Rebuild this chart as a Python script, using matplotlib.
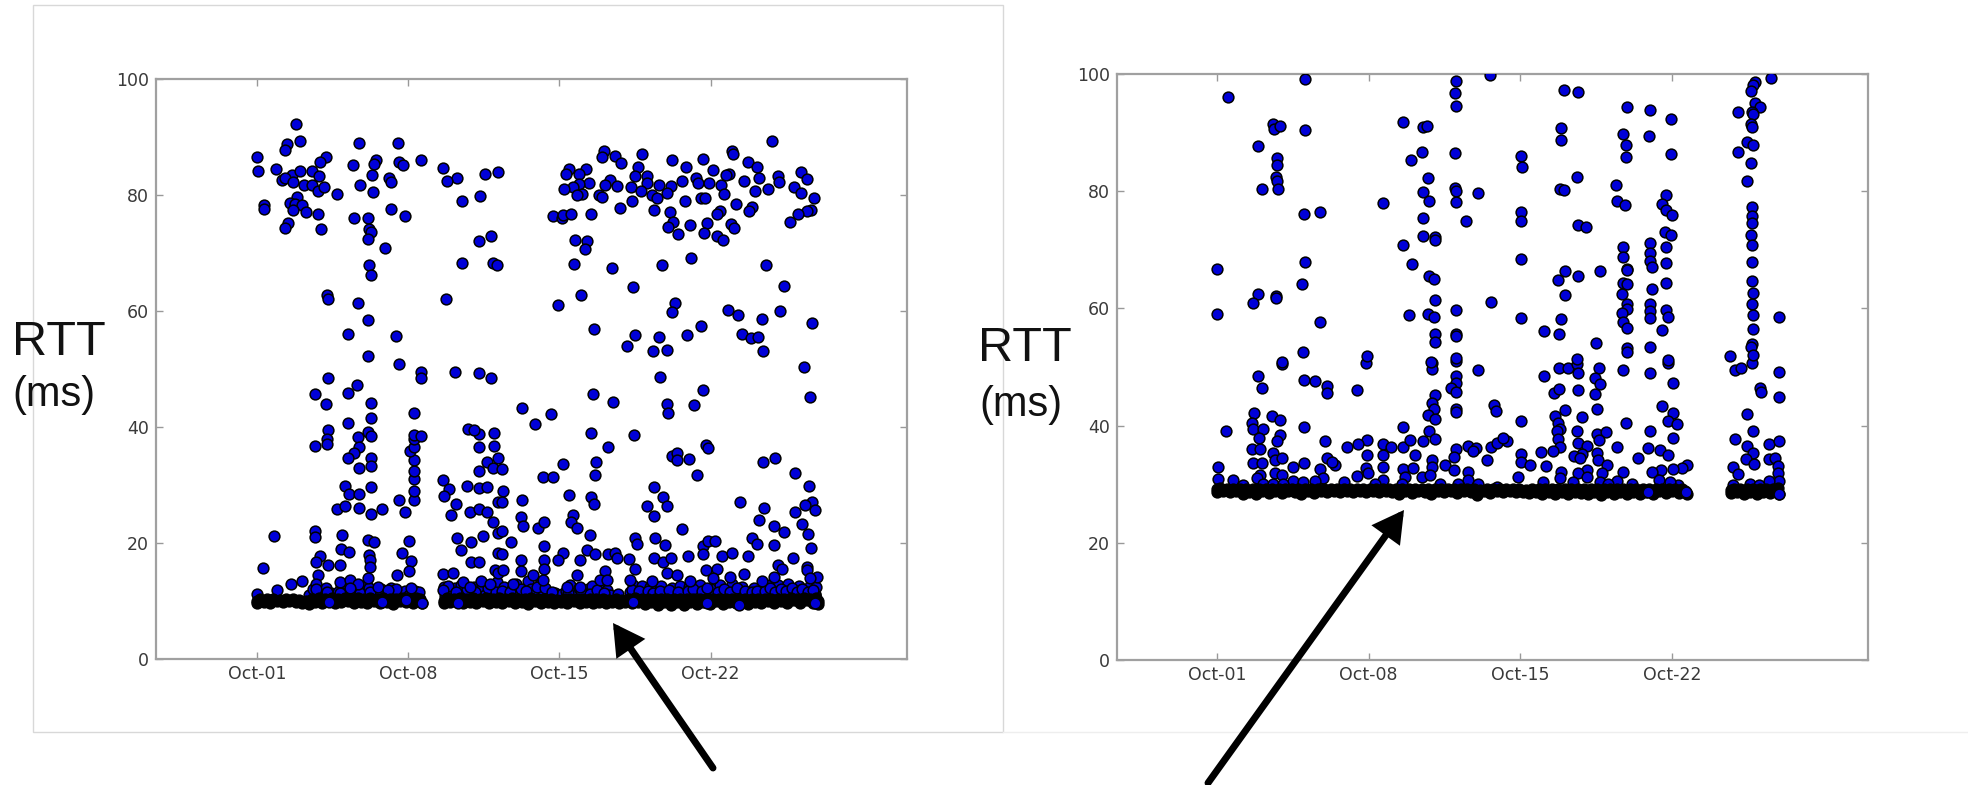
import numpy as np
import matplotlib
matplotlib.use("Agg")
import matplotlib.pyplot as plt
from matplotlib.patches import FancyArrowPatch, Rectangle
from matplotlib.lines import Line2D

# --- data: (days since Oct-01, RTT in ms) ---
tick_days = [0, 7, 14, 21]
tick_labels = ["Oct-01", "Oct-08", "Oct-15", "Oct-22"]
rtt_ticks = [0, 20, 40, 60, 80, 100]

left_high_early = [
    (1.81,92.2),(1.98,89.3),(1.37,88.8),(1.28,87.7),(0.0,86.6),(0.03,84.2),(0.88,84.5),(3.19,86.5),(2.93,85.7),
    (4.72,89.0),(6.51,89.0),(4.46,85.1),(5.51,86.1),(5.40,85.3),(6.56,85.7),(6.77,85.2),(7.61,86.0),(8.60,84.7),
    (9.24,83.0),(8.81,82.5),(10.56,83.6),(11.17,83.9),(1.17,82.6),(1.6,83.4),(2.0,84.1),(2.52,84.1),(2.87,83.2),
    (1.3,83.0),(1.64,82.2),(2.18,81.7),(2.52,81.7),(2.84,80.7),(3.09,81.3),(3.69,80.2),(5.31,83.5),(4.75,81.8),
    (5.35,80.6),(6.1,82.9),(6.22,82.3),(10.31,79.9),(9.5,79.0),(1.84,79.7),(1.51,78.6),(1.77,78.4),(2.07,78.2),
    (0.32,78.3),(0.32,77.6),(1.68,77.4),(2.25,77.1),(2.81,76.8),(1.44,75.1),(1.27,74.3),(2.96,74.2),(4.51,76.1),
    (5.15,76.1),(6.19,77.6),(6.85,76.3),(5.19,74.1),(5.29,73.7),(5.14,72.5),(5.94,70.9),(10.82,73.0),(10.29,72.1),
    (9.49,68.3),(10.94,68.2),(11.11,68.0),(5.17,67.9),(5.26,66.2),(3.23,62.8),(3.27,62.0),(4.69,61.4),(8.73,62.1),
    (5.14,58.4),(4.23,56.1),(6.44,55.7),(5.15,52.2),(6.59,50.8),
]
left_high_late = [
    (23.86,89.3),(16.04,87.6),(15.96,86.5),(16.56,86.8),(16.84,85.6),(17.82,87.1),(19.2,86.1),(20.66,86.2),
    (19.86,84.8),(21.98,87.6),(22.02,87.0),(22.75,85.7),(23.16,84.9),(21.13,84.3),(17.65,84.8),(14.46,84.5),
    (14.32,83.7),(15.22,84.5),(14.91,83.7),(25.2,84.0),(25.48,82.7),(24.12,83.3),(24.15,82.2),(23.26,83.0),
    (22.56,82.5),(21.84,83.7),(21.71,83.4),(17.5,83.3),(18.04,83.2),(18.07,82.1),(16.34,82.6),(16.13,81.7),
    (16.65,81.6),(17.33,81.4),(17.76,80.7),(15.37,82.1),(14.92,81.9),(14.64,81.4),(14.21,81.0),(15.03,80.2),
    (14.83,80.0),(15.83,80.0),(15.96,79.7),(18.63,81.7),(19.15,81.6),(19.0,80.3),(18.3,80.0),(18.53,79.5),
    (19.66,82.5),(20.33,83.0),(20.42,82.0),(20.92,82.0),(21.48,81.8),(21.63,80.2),(23.04,80.7),(23.67,81.1),
    (24.85,81.4),(25.17,80.3),(25.8,79.4),(17.36,79.0),(16.78,77.8),(19.79,79.0),(20.57,79.4),(20.72,79.4),
    (22.16,78.4),(22.93,78.0),(22.79,77.2),(21.44,77.2),(21.31,76.8),(18.36,77.4),(19.14,77.1),(25.65,77.5),
    (25.45,77.2),(25.06,76.7),(24.66,75.4),(13.72,76.4),(14.14,76.0),(14.18,76.5),(14.54,76.8),(15.45,76.7),
    (19.27,75.3),(19.04,74.5),(20.05,74.8),(20.85,75.1),(21.93,75.0),(22.1,74.3),(19.5,73.2),(20.71,73.4),
    (21.28,73.0),(21.59,72.2),(14.74,72.3),(15.29,72.0),(15.17,70.7),(20.11,69.1),(14.65,68.1),(16.42,67.5),
    (18.74,67.9),(23.58,68.0),(17.41,64.2),(24.41,64.3),(15.0,62.7),(13.91,61.0),(19.34,61.3),(19.23,59.9),
    (21.79,60.1),(22.28,59.3),(23.37,58.7),(24.22,60.0),(25.69,57.9),(15.62,56.9),(17.49,55.8),(18.6,55.6),
    (17.12,54.0),(18.34,53.1),(18.97,53.3),(19.92,55.8),(20.54,57.5),(22.45,56.0),(22.89,55.3),(23.21,55.5),
    (23.41,53.1),(25.3,50.4),
]
left_mid_early = [
    (7.59,49.4),(7.59,48.4),(9.15,49.4),(10.28,49.3),(10.85,48.4),(3.27,48.4),(4.61,47.2),(4.23,45.8),(2.67,45.7),
    (3.21,44.0),(5.28,44.1),(5.26,41.6),(7.27,42.5),(4.23,40.7),(3.27,39.4),(3.23,38.0),(3.23,37.1),(2.67,36.7),
    (5.15,39.1),(4.69,38.3),(5.26,38.4),(4.72,36.6),(4.49,35.5),(4.23,34.7),(5.26,34.7),(5.26,33.2),(4.72,33.0),
    (4.07,29.9),(4.24,28.4),(4.72,28.5),(5.29,29.6),(3.72,25.8),(4.06,26.4),(4.74,26.0),(5.26,25.0),(5.79,25.9),
    (6.59,27.4),(6.85,25.4),(7.27,27.4),(7.27,28.9),(7.27,31.0),(7.27,32.4),(7.27,34.3),(7.08,35.9),(7.27,36.6),
    (7.27,37.9),(7.27,38.6),(7.58,38.5),(8.63,30.9),(8.9,29.3),(8.66,28.1),(9.21,26.8),(8.98,24.9),(9.74,29.8),
    (10.29,29.4),(10.66,29.7),(10.29,32.4),(10.63,34.0),(10.94,33.0),(11.17,34.6),(10.28,36.6),(10.97,36.8),
    (10.28,38.8),(9.78,39.6),(10.02,39.5),(10.97,39.0),(9.86,25.3),(10.29,25.8),(10.66,25.3),(10.91,23.6),
    (11.17,21.8),(9.24,20.8),(9.89,20.1),(10.45,21.2),(9.44,18.8),(9.89,16.7),(10.28,16.8),(11.17,18.2),(11.17,27.1),
    (0.79,21.2),(0.29,15.7),(2.67,22.1),(2.67,21.1),(3.94,21.3),(5.15,20.5),(5.42,20.1),(7.02,20.4),(3.87,18.9),
    (4.24,18.4),(6.7,18.2),(2.92,17.8),(2.72,16.8),(3.27,16.2),(3.84,16.2),(5.2,17.9),(5.23,17.1),(5.23,15.9),
    (7.11,16.9),(7.02,15.1),(6.47,14.5),(2.81,14.5),(1.59,13.0),(2.07,13.5),(0.91,11.9),(0.0,11.2),(5.15,13.9),
    (2.72,13.0),(2.72,12.1),(3.23,11.6),(3.84,13.2),(4.31,13.6),(4.69,13.0),(4.31,12.2),(3.84,11.3),(5.23,11.6),
    (5.62,12.5),(6.08,11.9),(7.11,12.2),(8.63,14.7),(9.06,14.8),(8.63,11.9),(9.55,13.3),(9.86,12.5),(10.35,13.5),
    (10.79,13.0),(11.02,15.3),(11.17,14.8),
]
left_mid_late = [
    (18.66,48.7),(25.59,45.2),(20.63,46.4),(20.25,43.8),(18.97,43.9),(19.01,42.4),(15.57,45.7),(16.5,44.3),
    (12.25,43.3),(12.87,40.5),(13.61,42.3),(15.48,38.9),(16.26,36.6),(17.45,38.7),(14.18,33.7),(15.69,33.9),
    (15.66,31.7),(13.26,31.3),(13.72,31.3),(12.25,27.4),(14.43,28.3),(15.45,28.0),(15.6,26.7),(19.2,35.0),
    (19.43,35.6),(19.43,34.3),(20.0,34.5),(20.35,31.7),(20.79,36.9),(20.89,36.3),(23.44,34.0),(24.0,34.7),
    (24.89,32.0),(25.54,29.8),(25.68,27.0),(25.37,26.6),(25.83,25.7),(24.91,25.3),(25.22,23.2),(25.51,21.6),
    (25.63,19.1),(18.38,29.6),(18.81,27.9),(18.98,26.4),(18.04,26.4),(18.38,24.7),(22.36,27.1),(23.46,26.0),
    (23.26,23.9),(23.91,23.0),(24.41,21.9),(19.66,22.5),(22.92,20.9),(23.16,19.8),(23.91,19.7),(12.24,24.4),
    (12.33,23.0),(12.99,22.6),(13.29,23.6),(14.61,24.8),(14.52,23.6),(14.8,22.6),(15.42,21.4),(11.74,20.1),
    (11.33,22.0),(11.4,28.9),(11.33,27.1),(11.33,32.8),(13.29,19.5),(11.33,18.1),(15.29,18.8),(15.65,18.1),
    (14.18,18.3),(13.95,17.0),(14.95,17.1),(16.26,18.1),(16.57,18.3),(16.68,17.5),(17.24,17.2),(17.5,20.8),
    (17.61,19.9),(18.41,20.9),(18.87,19.7),(19.97,17.8),(20.66,19.4),(20.89,20.4),(21.2,20.4),(20.66,18.1),
    (21.52,17.8),(21.98,18.3),(22.75,17.8),(24.83,17.4),(18.38,17.4),(18.81,16.8),(19.16,17.5),(12.21,17.1),
    (13.29,17.1),(13.29,15.5),(12.21,15.1),(11.37,15.3),(17.5,15.6),(16.13,15.2),(14.83,14.5),(18.98,14.8),
    (19.43,14.5),(20.79,15.3),(21.31,15.5),(22.55,14.7),(24.14,16.2),(24.3,15.5),(25.48,15.9),(25.48,15.3),
    (12.79,14.5),(25.91,14.1),(25.6,13.9),(23.36,13.5),(23.91,14.2),(21.9,14.1),(21.13,13.9),(20.05,13.5),
    (18.27,13.5),(17.27,13.7),(13.26,13.6),(11.87,13.0),(15.88,13.7),(14.34,12.5),(14.95,12.5),(16.19,13.6),
]
left_low = [
    (2.4,11.0),(2.75,11.5),(3.05,10.9),(3.4,11.3),(3.6,10.7),(3.9,12.4),(4.05,11.0),(4.15,12.8),(4.4,11.3),(4.5,12.6),
    (4.6,10.8),(4.85,12.1),(4.95,11.0),(5.1,12.7),(5.35,11.2),(5.5,10.8),(5.75,12.1),(5.9,11.1),(6.2,12.2),(6.3,10.9),
    (6.55,11.3),(6.85,11.8),(7.05,11.0),(7.3,11.7),(7.45,10.9),(8.65,12.4),(8.7,10.9),(8.95,11.5),(9.15,12.2),(9.3,11.0),
    (9.45,12.8),(9.6,11.2),(9.85,11.4),(10.05,12.4),(10.2,11.0),(10.4,12.6),(10.55,11.1),(10.85,11.6),(11.1,13.2),
    (11.2,11.2),(11.45,12.4),(11.6,10.9),(11.8,12.1),(12.0,13.0),(12.1,11.3),(12.35,11.0),(12.55,13.4),(12.7,12.0),
    (12.85,11.2),(13.1,13.0),(13.25,11.7),(13.5,11.0),(13.8,11.4),(14.1,11.2),(14.3,11.8),(14.5,12.8),(14.7,11.3),
    (14.9,12.3),(15.1,11.3),(15.3,12.0),(15.5,12.6),(15.7,11.3),(15.95,12.6),(16.2,11.9),(16.35,11.0),(16.7,11.2),
    (17.25,11.5),(17.4,12.8),(17.6,11.3),(17.8,12.6),(18.0,11.2),(18.2,12.4),(18.5,11.2),(18.7,12.6),(18.95,11.6),
    (19.2,12.3),(19.35,11.1),(19.6,12.6),(19.85,11.2),(20.0,12.5),(20.3,11.4),(20.5,12.8),(20.7,11.2),(21.0,12.1),
    (21.2,11.0),(21.45,12.8),(21.7,11.3),(22.0,12.9),(22.25,11.5),(22.45,12.4),(22.75,11.3),(23.0,12.2),(23.3,11.0),
    (23.6,12.8),(23.85,11.8),(24.1,12.7),(24.35,11.2),(24.6,12.9),(24.85,11.7),(25.1,12.6),(25.35,11.3),(25.6,12.6),
    (25.85,11.2),(25.9,12.4),(25.83,11.0),
    # second pass over the same strip, it is crowded there
    (2.6,12.0),(3.2,12.3),(3.75,11.6),(4.25,11.7),(4.75,11.4),(5.2,12.2),(5.65,11.3),(6.05,11.6),(6.45,12.0),(7.15,11.3),
    (7.5,11.6),(8.85,12.6),(9.2,11.6),(9.7,12.1),(10.1,11.6),(10.7,12.2),(11.05,11.5),(11.35,11.7),(11.7,11.6),(12.2,12.1),
    (12.45,11.7),(12.95,12.4),(13.35,12.2),(13.65,11.5),(14.4,11.4),(15.0,11.7),(15.4,11.2),(15.75,11.9),(16.05,11.3),
    (17.35,11.9),(17.7,11.8),(18.1,11.7),(18.35,11.4),(18.65,11.8),(19.05,11.9),(19.5,11.6),(19.95,11.7),(20.2,12.1),
    (20.6,11.7),(20.85,12.3),(21.35,11.6),(21.6,12.0),(21.9,11.6),(22.2,12.2),(22.6,11.8),(22.9,11.5),(23.15,11.7),
    (23.5,11.7),(23.75,12.2),(24.0,11.5),(24.25,12.1),(24.5,11.8),(24.75,12.2),(25.0,11.5),(25.25,12.0),(25.5,11.5),(25.75,11.9),
]
left_band_blue = [(17.42,9.9),(20.82,9.6),(22.3,9.3),(25.83,9.6),(3.33,9.8),(6.9,10.1),(7.65,9.7),(5.77,9.8),(9.32,9.6)]
left_floor = [
    (0.0,10.0),(0.0,9.6),(0.3,9.9),(0.6,9.7),(0.9,10.0),(1.2,9.8),(1.5,10.0),(1.8,9.9),(2.1,9.6),(2.4,9.4),(2.7,9.8),
    (3.0,9.6),(3.3,10.0),(3.6,9.7),(3.9,9.8),(4.2,10.0),(4.5,9.6),(4.8,9.9),(5.1,9.7),(5.4,10.0),(5.7,9.6),(6.0,9.9),
    (6.3,9.5),(6.6,10.0),(6.9,9.8),(7.2,9.6),(7.5,10.0),(7.65,9.7),(8.65,10.0),(8.65,9.6),(8.95,9.8),(9.25,10.0),
    (9.55,9.6),(9.85,9.9),(10.15,9.7),(10.45,10.0),(10.75,9.6),(11.05,9.9),(11.35,9.6),(11.65,10.0),(11.95,9.7),
    (12.25,9.9),(12.55,9.4),(12.85,10.0),(13.15,9.7),(13.45,9.9),(13.75,9.6),(14.05,9.9),(14.35,9.7),(14.65,10.0),
    (14.95,9.6),(15.25,9.9),(15.55,9.7),(15.85,9.9),(16.15,9.6),(16.45,9.9),(16.75,9.7),(17.05,9.8),(17.35,9.6),
    (17.65,9.9),(17.95,9.5),(18.25,9.8),(18.55,9.3),(18.85,9.8),(19.15,9.3),(19.45,9.9),(19.75,9.3),(20.05,9.9),
    (20.35,9.5),(20.65,9.9),(20.95,9.4),(21.25,10.0),(21.55,9.4),(21.85,9.9),(22.15,9.6),(22.45,10.0),(22.75,9.5),
    (23.05,9.9),(23.35,9.6),(23.65,10.0),(23.95,9.6),(24.25,10.0),(24.55,9.7),(24.85,10.1),(25.15,9.6),(25.45,10.1),
    (25.75,9.6),(25.95,10.0),(25.95,9.4),
    # top of the band
    (0.15,10.4),(0.45,10.3),(0.75,10.3),(1.05,10.2),(1.35,10.3),(1.65,10.3),(1.95,10.1),(2.25,10.0),(2.55,10.3),(2.85,10.5),
    (3.15,10.4),(3.45,10.5),(3.75,10.4),(4.05,10.5),(4.35,10.4),(4.65,10.5),(4.95,10.4),(5.25,10.5),(5.55,10.4),(5.85,10.5),
    (6.15,10.4),(6.45,10.3),(6.75,10.5),(7.05,10.4),(7.35,10.5),(7.55,10.3),(8.8,10.5),(9.1,10.4),(9.4,10.5),(9.7,10.4),
    (10.0,10.5),(10.3,10.4),(10.6,10.5),(10.9,10.4),(11.2,10.5),(11.5,10.4),(11.8,10.5),(12.1,10.4),(12.4,10.3),(12.7,10.5),
    (13.0,10.4),(13.3,10.3),(13.6,10.4),(13.9,10.2),(14.2,10.4),(14.5,10.3),(14.8,10.4),(15.1,10.3),(15.4,10.4),(15.7,10.3),
    (16.0,10.3),(16.3,10.2),(16.6,10.3),(16.9,10.2),(17.2,10.4),(17.5,10.5),(17.8,10.4),(18.1,10.3),(18.4,10.4),(18.7,10.3),
    (19.0,10.4),(19.3,10.3),(19.6,10.4),(19.9,10.3),(20.2,10.4),(20.5,10.3),(20.8,10.4),(21.1,10.3),(21.4,10.4),(21.7,10.3),
    (22.0,10.4),(22.3,10.3),(22.6,10.4),(22.9,10.3),(23.2,10.4),(23.5,10.3),(23.8,10.4),(24.1,10.3),(24.4,10.4),(24.7,10.5),
    (25.0,10.4),(25.3,10.5),(25.6,10.4),(25.9,10.5),
]

right_high_early = [
    (0.52,96.1),(4.06,99.1),(2.57,91.5),(2.63,90.6),(2.92,91.1),(4.08,90.5),(8.57,91.8),(9.49,91.0),(9.71,91.1),
    (11.02,98.8),(10.97,96.7),(11.05,94.6),(12.62,99.9),(1.88,87.7),(9.45,86.7),(8.95,85.3),(10.98,86.5),(2.78,85.6),
    (2.78,84.4),(2.71,82.4),(2.78,81.8),(2.09,80.3),(2.8,80.4),(9.75,82.2),(11.0,80.6),(11.05,80.0),(9.49,79.8),
    (12.06,79.7),(9.8,78.3),(11.02,78.1),(7.68,78.0),(4.0,76.1),(4.75,76.5),(9.49,75.5),(11.48,74.9),(9.49,72.4),
    (10.05,72.2),(10.06,71.7),(8.57,70.9),(4.06,67.9),(9.0,67.6),(0.02,66.7),(9.78,65.6),(10.03,65.1),(3.94,64.2),
    (1.88,62.4),(1.66,61.0),(2.71,62.1),(2.72,61.7),(10.06,61.5),(12.65,61.1),(0.02,59.0),(8.86,58.8),(9.75,59.0),
    (10.02,58.5),(11.03,59.8),(4.75,57.6),(10.06,55.7),(11.02,55.7),(11.02,55.3),(10.06,54.3),(3.95,52.6),(6.91,51.8),
    (11.02,51.6),(9.86,50.9),(3.0,50.9),
]
right_high_late = [
    (25.58,99.4),(24.83,98.7),(24.75,98.1),(24.66,97.1),(16.02,97.2),(16.65,97.0),(18.94,94.3),(20.0,93.8),(20.97,92.4),
    (24.02,93.5),(24.81,95.1),(25.06,94.3),(24.68,93.6),(24.75,93.2),(24.65,91.4),(24.68,90.9),(15.88,90.7),(15.86,88.8),
    (18.74,89.8),(18.88,87.8),(18.88,85.9),(19.95,89.5),(20.97,86.4),(24.45,88.4),(24.72,87.9),(24.05,86.7),(24.66,84.8),
    (24.46,81.7),(14.02,86.0),(14.06,84.1),(16.63,82.5),(15.83,80.3),(16.02,80.2),(18.43,81.1),(18.45,78.3),(18.85,77.6),
    (20.72,79.3),(20.54,77.8),(20.72,76.8),(20.98,75.9),(24.68,77.3),(24.71,75.8),(24.71,74.5),(14.02,76.4),(14.02,74.9),
    (16.66,74.2),(17.02,73.9),(20.68,73.0),(20.97,72.5),(24.66,72.6),(24.71,70.8),(18.74,70.5),(20.0,71.1),(20.72,70.4),
    (19.98,69.5),(18.74,68.8),(19.98,68.1),(14.02,68.4),(20.71,67.8),(24.71,68.0),(18.94,66.8),(20.06,67.0),(18.91,66.5),
    (16.06,66.3),(15.75,64.8),(16.66,65.6),(17.66,66.4),(18.72,64.3),(18.94,64.2),(20.71,64.4),(24.68,64.6),(16.06,62.3),
    (20.06,63.3),(18.69,62.5),(24.75,62.7),(18.94,60.7),(19.98,60.7),(24.68,60.7),(18.91,59.9),(20.0,59.6),(20.72,59.8),
    (18.69,59.2),(19.98,58.3),(14.02,58.3),(15.86,58.2),(24.75,58.9),(25.95,58.6),(20.82,58.5),(18.72,57.7),(18.91,56.7),
    (15.09,56.1),(15.77,55.6),(20.52,56.3),(24.72,56.4),(17.48,54.1),(19.98,53.4),(18.94,53.3),(18.91,52.5),(24.68,54.0),
    (24.63,53.4),(24.75,52.0),(23.68,51.9),(16.63,51.3),(20.8,51.2),
]
right_mid_early = [
    (3.02,50.5),(6.89,50.7),(9.91,50.6),(9.91,49.7),(11.03,51.1),(12.06,49.5),(1.88,48.4),(2.09,46.4),(4.03,47.8),
    (4.52,47.6),(5.06,46.8),(5.06,45.6),(6.45,46.1),(11.03,48.4),(11.02,47.2),(10.78,46.4),(11.03,45.8),(10.06,45.3),
    (9.91,43.8),(10.03,42.9),(11.02,42.9),(11.02,42.3),(9.75,41.8),(10.06,41.1),(12.8,43.5),(12.88,42.5),(1.72,42.1),
    (2.52,41.7),(2.91,41.0),(1.63,40.4),(1.68,39.4),(2.14,39.5),(4.03,39.8),(0.42,39.0),(1.95,37.8),(2.91,38.4),
    (2.75,37.3),(8.6,39.7),(9.8,39.1),(10.06,37.7),(5.0,37.4),(6.91,37.5),(6.52,36.9),(6.02,36.3),(7.68,36.9),(8.02,36.3),
    (8.57,36.3),(8.91,37.5),(9.52,37.4),(11.6,36.5),(11.95,36.1),(11.83,35.6),(12.63,36.3),(12.94,37.1),(11.03,36.0),
    (10.95,34.7),(1.6,36.0),(1.98,36.0),(7.68,35.0),(6.91,34.9),(9.14,35.0),(2.6,35.4),(12.45,34.1),(2.68,34.1),(2.98,34.4),
    (5.06,34.4),(5.45,33.3),(5.29,33.8),(1.65,33.6),(2.09,33.6),(4.02,33.6),(3.52,33.0),(0.06,33.0),(4.75,32.6),(6.86,32.7),
    (7.68,32.9),(8.6,32.6),(9.06,32.7),(9.91,34.1),(9.91,33.0),(10.52,33.3),(10.94,32.4),(11.6,32.1),(6.98,31.9),(2.68,31.9),
    (1.98,31.6),(2.98,31.6),(4.91,31.1),(0.06,30.9),(0.72,30.7),(1.83,31.0),(3.49,30.6),(3.95,30.3),(4.52,30.6),(5.88,30.4),
    (6.48,31.4),(7.68,30.7),(8.68,31.3),(9.45,31.3),(9.83,31.6),(11.6,30.7),(12.06,30.1),(12.91,29.6),(1.22,29.9),(2.14,30.1),
    (2.6,30.1),(3.06,30.1),(7.29,30.1),(8.52,30.1),(10.29,30.0),(11.14,30.0),
]
right_mid_late = [
    (15.09,48.5),(15.8,49.9),(16.22,49.9),(16.63,50.5),(16.68,48.9),(17.65,49.9),(17.45,48.1),(17.68,47.1),(18.74,49.5),
    (20.0,49.0),(20.8,50.7),(21.03,47.2),(23.92,49.5),(24.18,49.8),(24.68,50.6),(25.95,49.1),(25.06,46.5),(25.09,45.7),
    (25.95,44.8),(15.55,45.6),(15.78,46.2),(16.68,46.1),(17.45,45.4),(17.54,42.8),(16.06,42.7),(14.02,40.8),(16.83,41.4),
    (18.88,40.4),(15.6,41.7),(20.55,43.4),(21.03,42.2),(20.83,40.8),(21.21,40.2),(24.45,42.0),(15.75,40.4),(15.83,39.5),
    (15.68,39.1),(16.63,39.0),(17.52,38.6),(17.95,38.9),(19.99,39.0),(21.03,37.9),(24.72,39.1),(13.37,37.3),(13.18,37.8),
    (23.91,37.7),(24.45,36.6),(25.45,36.8),(25.92,37.3),(15.75,37.7),(15.83,36.3),(15.52,35.7),(16.68,37.0),(17.06,36.5),
    (17.65,37.5),(18.45,36.3),(19.91,36.2),(20.45,35.8),(14.94,35.5),(14.02,35.1),(24.75,35.4),(16.83,35.2),(16.48,34.8),
    (17.52,35.3),(20.83,35.0),(19.45,34.4),(14.02,33.8),(14.45,33.2),(15.17,33.1),(16.75,34.4),(17.6,34.1),(24.4,34.3),
    (25.45,34.3),(25.77,34.5),(24.78,33.4),(23.83,33.0),(25.87,33.1),(21.68,33.3),(21.45,32.7),(21.06,32.6),(20.48,32.4),
    (20.06,32.1),(17.98,33.3),(18.73,32.1),(15.88,32.1),(17.06,32.4),(16.68,31.9),(17.75,31.9),(24.06,31.7),(25.91,31.9),
    (13.88,31.2),(15.83,31.0),(17.06,31.2),(15.06,30.4),(20.42,30.8),(25.95,30.6),(16.45,30.4),(17.68,30.4),(18.48,30.6),
    (19.14,30.1),(18.03,30.1),(24.6,30.0),(25.03,29.9),(25.45,30.6),(23.8,29.9),(21.29,29.9),(20.91,30.3),
]
right_band_blue = [(19.91,28.6),(21.65,28.7),(25.95,28.4)]
right_floor = [
    (0.0,29.2),(0.0,28.6),(0.3,28.8),(0.6,28.6),(0.9,28.8),(1.2,28.4),(1.5,28.7),(1.8,28.4),(2.1,28.8),(2.4,28.5),(2.7,28.8),
    (3.0,28.5),(3.3,28.8),(3.6,28.6),(3.9,28.4),(4.2,28.8),(4.5,28.5),(4.8,28.8),(5.1,28.6),(5.4,28.8),(5.7,28.6),(6.0,28.8),
    (6.3,28.6),(6.6,28.8),(6.9,28.6),(7.2,28.8),(7.5,28.6),(7.8,28.8),(8.1,28.6),(8.4,28.4),(8.7,28.8),(9.0,28.5),(9.3,28.8),
    (9.6,28.6),(9.9,28.4),(10.2,28.8),(10.5,28.6),(10.8,28.8),(11.1,28.5),(11.4,28.8),(11.7,28.6),(12.0,28.2),(12.3,28.8),
    (12.6,28.5),(12.9,28.8),(13.2,28.6),(13.5,28.8),(13.8,28.6),(14.1,28.7),(14.4,28.5),(14.7,28.7),(15.0,28.3),(15.3,28.7),
    (15.6,28.4),(15.9,28.7),(16.2,28.3),(16.5,28.7),(16.8,28.5),(17.1,28.3),(17.4,28.7),(17.7,28.1),(18.0,28.6),(18.3,28.3),
    (18.6,28.7),(18.9,28.4),(19.2,28.7),(19.5,28.4),(19.8,28.7),(20.1,28.4),(20.4,28.8),(20.7,28.5),(21.0,28.8),(21.3,28.5),
    (21.6,28.8),(21.68,28.4),(23.7,29.0),(23.7,28.5),(24.0,28.7),(24.3,28.3),(24.6,28.7),(24.9,28.3),(25.2,28.7),(25.5,28.5),
    (25.8,28.8),(25.95,28.4),
    # top of the band
    (0.15,29.3),(0.45,29.2),(0.75,29.2),(1.05,29.2),(1.35,29.1),(1.65,29.2),(1.95,29.2),(2.25,29.2),(2.55,29.2),(2.85,29.2),
    (3.15,29.2),(3.45,29.2),(3.75,29.2),(4.05,29.1),(4.35,29.2),(4.65,29.1),(4.95,29.1),(5.25,29.2),(5.55,29.2),(5.85,29.2),
    (6.15,29.2),(6.45,29.2),(6.75,29.2),(7.05,29.2),(7.35,29.2),(7.65,29.2),(7.95,29.2),(8.25,29.1),(8.55,29.2),(8.85,29.2),
    (9.15,29.2),(9.45,29.2),(9.75,29.2),(10.05,29.2),(10.35,29.2),(10.65,29.2),(10.95,29.2),(11.25,29.2),(11.55,29.2),
    (11.85,29.1),(12.15,29.0),(12.45,29.1),(12.75,29.1),(13.05,29.1),(13.35,29.1),(13.65,29.1),(13.95,29.1),(14.25,29.0),
    (14.55,29.1),(14.85,29.2),(15.15,29.2),(15.45,29.1),(15.75,29.2),(16.05,29.1),(16.35,29.2),(16.65,29.1),(16.95,29.1),
    (17.25,29.1),(17.55,29.1),(17.85,29.2),(18.15,29.1),(18.45,29.2),(18.75,29.1),(19.05,29.2),(19.35,29.1),(19.65,29.2),
    (19.95,29.1),(20.25,29.2),(20.55,29.2),(20.85,29.2),(21.15,29.2),(21.45,29.2),(23.85,29.2),(24.15,29.2),(24.45,29.2),
    (24.75,29.2),(25.05,29.2),(25.35,29.2),(25.65,29.2),(25.9,29.3),
]

W, H = 1968, 785
fig = plt.figure(figsize=(W / 100, H / 100), dpi=100, facecolor="white")


def draw_panel(box, xlim, floor, dots, band_blue):
    left, top, right, bottom = box
    ax = fig.add_axes([left / W, 1 - bottom / H, (right - left) / W, (bottom - top) / H])
    x, y = np.array(dots).T
    ax.scatter(x, y, s=60, c="#0000d8", edgecolors="black", linewidths=1.1, zorder=3)
    fx, fy = np.array(floor).T
    ax.scatter(fx, fy, s=60, c="black", edgecolors="black", linewidths=1.1, zorder=4)
    bx, by = np.array(band_blue).T
    ax.scatter(bx, by, s=60, c="#0000d8", edgecolors="black", linewidths=1.1, zorder=5)
    ax.set_xlim(*xlim)
    ax.set_ylim(0, 100)
    ax.set_xticks(tick_days)
    ax.set_xticklabels(tick_labels)
    ax.set_yticks(rtt_ticks)
    ax.tick_params(direction="in", top=True, right=True, length=5, width=1, color="#999999",
                   labelsize=12.5, labelcolor="#3a3a3a")
    ax.tick_params(axis="x", pad=4)
    ax.tick_params(axis="y", pad=5)
    for s in ax.spines.values():
        s.set_color("#a0a0a0")
        s.set_linewidth(1.6)
    return ax


draw_panel((156, 79, 907, 659), (-4.68, 30.09), left_floor,
           left_low + left_mid_early + left_mid_late + left_high_early + left_high_late, left_band_blue)
draw_panel((1117, 74, 1868, 660), (-4.61, 30.04), right_floor,
           right_mid_early + right_mid_late + right_high_early + right_high_late, right_band_blue)

# slide frame around the left plot and the faint line under the right one
fig.add_artist(Rectangle((33 / W, 1 - 732 / H), 970 / W, 727 / H, transform=fig.transFigure,
                         fill=False, edgecolor="#d8d8d8", linewidth=1))
fig.add_artist(Line2D([1003 / W, 1], [1 - 732 / H, 1 - 732 / H], transform=fig.transFigure,
                      color="#eeeeee", linewidth=1))

# hand placed labels
for x, y, txt, size in [(12, 355, "RTT", 35), (12, 406, "(ms)", 30), (978, 361, "RTT", 35), (979, 416, "(ms)", 30)]:
    fig.text(x / W, 1 - y / H, txt, fontsize=size, family="Liberation Sans", color="#111111",
             ha="left", va="baseline")

# arrows
for tail, tip in [((713, 768), (613, 623)), ((1208, 783), (1404, 510))]:
    fig.add_artist(FancyArrowPatch((tail[0] / W, 1 - tail[1] / H), (tip[0] / W, 1 - tip[1] / H),
                                   transform=fig.transFigure, arrowstyle="-|>,head_length=0.5,head_width=0.28",
                                   mutation_scale=30, linewidth=5, color="black", shrinkA=0, shrinkB=0,
                                   joinstyle="miter", zorder=10))

fig.savefig("out.png", dpi=100)
